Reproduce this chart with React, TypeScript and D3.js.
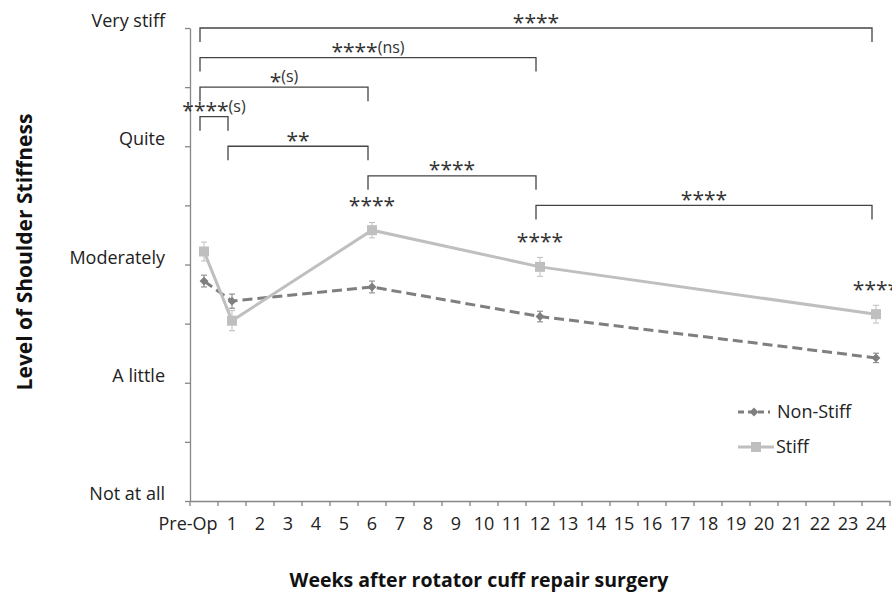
import React, { useRef, useEffect } from 'react';
import * as d3 from 'd3';

// x categories (Excel category axis, one slot per week)
const categories = ['Pre-Op', '1', '2', '3', '4', '5', '6', '7', '8', '9', '10', '11', '12',
  '13', '14', '15', '16', '17', '18', '19', '20', '21', '22', '23', '24'];

const weeks = ['Pre-Op', '1', '6', '12', '24'];
const nonStiff = [2.86, 2.69, 2.81, 2.56, 2.21];
const nonStiffErr = [0.05, 0.06, 0.05, 0.045, 0.04];
const stiff = [3.11, 2.525, 3.29, 2.98, 2.58];
const stiffErr = [0.08, 0.085, 0.065, 0.08, 0.075];

const levelTicks = [1, 1.5, 2, 2.5, 3, 3.5, 4, 4.5, 5];
const levelValues = [1, 2, 3, 4, 5];
const levelNames = ['Not at all', 'A little', 'Moderately', 'Quite', 'Very stiff'];

const bracketFrom = ['Pre-Op', 'Pre-Op', 'Pre-Op', 'Pre-Op', '1', '6', '12'];
const bracketTo = ['24', '12', '6', '1', '6', '12', '24'];
const bracketLevel = [5, 4.75, 4.5, 4.25, 4, 3.75, 3.5];
const bracketStars = ['****', '****', '*', '****', '**', '****', '****'];
const bracketNote = ['', '(ns)', '(s)', '(s)', '', '', ''];

const pointStarWeeks = ['6', '12', '24'];

const FONT = "'Open Sans', sans-serif";

export default function App() {
  const chartRef = useRef<SVGSVGElement>(null);
  const width = 892, height = 596;

  useEffect(() => {
    const svg = d3.select(chartRef.current);
    svg.selectAll('*').remove();

    const xScale = d3.scaleBand<string>().domain(categories).range([190, 890]).padding(0);
    const yScale = d3.scaleLinear().domain([1, 5]).range([501, 28]);
    const cx = (c: string) => (xScale(c) as number) + xScale.bandwidth() / 2;
    const axisColor = '#868686';

    // y axis
    const yAxis = svg.append('g').attr('transform', 'translate(190,0)')
      .call(d3.axisLeft(yScale).tickValues(levelTicks).tickSize(5).tickSizeOuter(0).tickFormat(() => ''));
    yAxis.selectAll('path, line').attr('stroke', axisColor).attr('stroke-width', 1.3);

    svg.append('g').selectAll('text').data(levelValues).join('text')
      .attr('x', 165).attr('y', d => yScale(d) - 1)
      .attr('text-anchor', 'end')
      .style('font-family', FONT).style('font-size', '18px').attr('fill', '#222')
      .text((d, i) => levelNames[i]);

    // x axis
    const xAxis = svg.append('g').attr('transform', 'translate(0,501)')
      .call(d3.axisBottom(xScale).tickSize(0).tickSizeOuter(0).tickPadding(0));
    xAxis.select('path').attr('stroke', axisColor).attr('stroke-width', 1.3);
    xAxis.selectAll('text')
      .attr('dy', 0).attr('y', 29)
      .attr('dx', (d: any) => d === 'Pre-Op' ? -16 : 0)
      .style('font-family', FONT).style('font-size', '18px').attr('fill', '#222');
    const edges = categories.map(c => xScale(c) as number).concat([xScale.range()[1]]);
    xAxis.selectAll('line.edge').data(edges).join('line').attr('class', 'edge')
      .attr('x1', d => d).attr('x2', d => d).attr('y1', 0).attr('y2', 5)
      .attr('stroke', axisColor).attr('stroke-width', 1.3);

    // axis titles
    svg.append('text')
      .attr('transform', `translate(${32},${252}) rotate(-90)`)
      .attr('text-anchor', 'middle')
      .style('font-family', FONT).style('font-size', '21px').style('font-weight', 'bold').attr('fill', '#111')
      .text('Level of Shoulder Stiffness');
    svg.append('text')
      .attr('x', 479).attr('y', 587)
      .attr('text-anchor', 'middle')
      .style('font-family', FONT).style('font-size', '19.5px').style('font-weight', 'bold').attr('fill', '#111')
      .text('Weeks after rotator cuff repair surgery');

    // series
    const line = d3.line<number>().x((d, i) => cx(weeks[i])).y(d => yScale(d));

    const drawErr = (vals: number[], errs: number[], color: string) => {
      const g = svg.append('g').attr('stroke', color).attr('stroke-width', 1);
      vals.forEach((v, i) => {
        const xc = cx(weeks[i]);
        g.append('line').attr('x1', xc).attr('x2', xc).attr('y1', yScale(v - errs[i])).attr('y2', yScale(v + errs[i]));
        g.append('line').attr('x1', xc - 3).attr('x2', xc + 3).attr('y1', yScale(v - errs[i])).attr('y2', yScale(v - errs[i]));
        g.append('line').attr('x1', xc - 3).attr('x2', xc + 3).attr('y1', yScale(v + errs[i])).attr('y2', yScale(v + errs[i]));
      });
    };

    const dark = '#7f7f7f', light = '#bfbfbf';

    svg.append('path').datum(nonStiff).attr('d', line)
      .attr('fill', 'none').attr('stroke', dark).attr('stroke-width', 3).attr('stroke-dasharray', '10,5');
    drawErr(nonStiff, nonStiffErr, dark);
    const diamond = d3.symbol().type(d3.symbolDiamond2).size(50);
    svg.append('g').selectAll('path').data(nonStiff).join('path')
      .attr('d', diamond)
      .attr('transform', (d, i) => `translate(${cx(weeks[i])},${yScale(d)})`)
      .attr('fill', dark);

    svg.append('path').datum(stiff).attr('d', line)
      .attr('fill', 'none').attr('stroke', light).attr('stroke-width', 3);
    drawErr(stiff, stiffErr, light);
    svg.append('g').selectAll('rect').data(stiff).join('rect')
      .attr('x', (d, i) => cx(weeks[i]) - 5).attr('y', d => yScale(d) - 5)
      .attr('width', 10).attr('height', 10).attr('fill', light);

    // significance labels
    const starLabel = (g: any, xc: number, yc: number, stars: string, note: string) => {
      // yc: vertical centre of the label
      const t = g.append('text').attr('x', xc).attr('y', yc + 3)
        .attr('text-anchor', 'middle').style('font-family', FONT).attr('fill', '#333');
      t.append('tspan').style('font-size', '21px').attr('dy', 6.5).text(stars);
      if (note) t.append('tspan').style('font-size', '16px').attr('dy', -6.5).text(note);
    };

    const bg = svg.append('g');
    bracketFrom.forEach((f, i) => {
      const x1 = cx(f) - 4, x2 = cx(bracketTo[i]) - 4, yl = yScale(bracketLevel[i]);
      bg.append('path')
        .attr('d', `M${x1},${yl + 14}V${yl}H${x2}V${yl + 14}`)
        .attr('fill', 'none').attr('stroke', '#444').attr('stroke-width', 1.3);
      starLabel(bg, (x1 + x2) / 2, yl - 8, bracketStars[i], bracketNote[i]);
    });

    pointStarWeeks.forEach(w => {
      const v = stiff[weeks.indexOf(w)];
      starLabel(svg, cx(w), yScale(v) - 27, '****', '');
    });

    // legend
    const lg = svg.append('g');
    lg.append('line').attr('x1', 738).attr('x2', 770).attr('y1', 412).attr('y2', 412)
      .attr('stroke', dark).attr('stroke-width', 3).attr('stroke-dasharray', '6,4');
    lg.append('path').attr('d', diamond).attr('transform', 'translate(754,412)').attr('fill', dark);
    lg.append('text').attr('x', 777).attr('y', 418)
      .style('font-family', FONT).style('font-size', '18px').attr('fill', '#222').text('Non-Stiff');
    lg.append('line').attr('x1', 738).attr('x2', 774).attr('y1', 447).attr('y2', 447)
      .attr('stroke', light).attr('stroke-width', 3);
    lg.append('rect').attr('x', 751).attr('y', 442).attr('width', 10).attr('height', 10).attr('fill', light);
    lg.append('text').attr('x', 776).attr('y', 453)
      .style('font-family', FONT).style('font-size', '18px').attr('fill', '#222').text('Stiff');
  }, []);

  return (
    <svg ref={chartRef} width={width} height={height}
      style={{ position: 'absolute', left: 0, top: 0, background: '#fff' }} />
  );
}
